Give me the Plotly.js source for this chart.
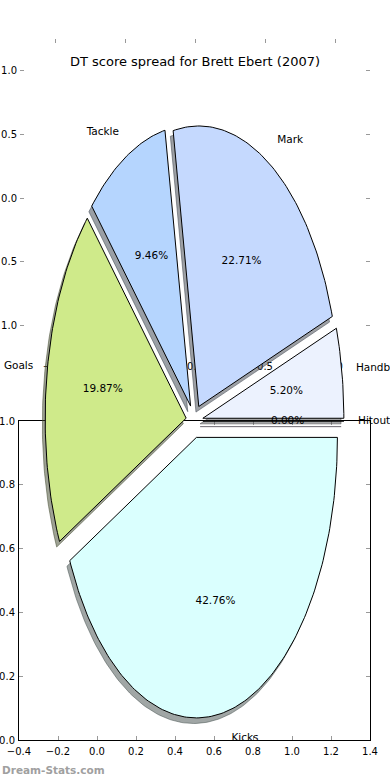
<!DOCTYPE html>
<html><head><meta charset="utf-8">
<script src="https://cdn.plot.ly/plotly-3.0.1.min.js"></script>
<style>html,body{margin:0;padding:0;background:#fff}#chart{width:390px;height:780px}</style>
</head><body><div id="chart"></div>
<script>
// ---------- data ----------
// (the last label is cut to what the reference shows at the right edge)
const labels = ['Hitout', 'Handb', 'Mark', 'Tackle', 'Goals', 'Kicks'];
const shares = [0.00, 5.20, 22.71, 9.46, 19.87, 42.76];
const colors = ['#f1e4ff', '#ecf2fe', '#c5d9fe', '#b5d5fe', '#cfea8a', '#dafffe'];
const explode = [0.06, 0.06, 0.06, 0.06, 0.06, 0.06];
const titleText = 'DT score spread for Brett Ebert (2007)';
const upperTickVals = [-1, -0.5, 0, 0.5, 1];
const upperXTickText = ['\u22121.0', '\u22120.5', '0.0', '0.5', '1.0'];
const upperYTickText = ['1.0', '0.5', '0.0', '0.5', '1.0'];
const lowerXTickVals = [-0.4, -0.2, 0, 0.2, 0.4, 0.6, 0.8, 1.0, 1.2, 1.4];
const lowerXTickText = ['\u22120.4', '\u22120.2', '0.0', '0.2', '0.4', '0.6', '0.8', '1.0', '1.2', '1.4'];
const lowerYTickVals = [0, 0.2, 0.4, 0.6, 0.8, 1.0];
const lowerYTickText = ['0.0', '0.2', '0.4', '0.6', '0.8', '1.0'];
const watermark = 'Dream-Stats.com';

// ---------- layout geometry ----------
const W = 390, H = 780;
const fx = p => p / W, fy = p => 1 - p / H;
const pieCx = 194.5, pieCy = 421, pieRx = 141, pieRy = 280.5;
const x3range = [(0 - pieCx) / pieRx, (W - pieCx) / pieRx];
const y3range = [(pieCy - H) / pieRy, (pieCy - 0) / pieRy];
const FONT = 'DejaVu Sans, sans-serif';
const labelDistance = 1.1, pctDistance = 0.6, shadowOff = -0.02;

function hexToRgb(h) {
  const n = parseInt(h.slice(1), 16);
  return [(n >> 16) & 255, (n >> 8) & 255, n & 255];
}

const total = shares.reduce((a, b) => a + b, 0);
const shadowTraces = [], wedgeTraces = [];
const labX = [], labY = [], labPos = [];
const pctX = [], pctY = [], pctText = [];
let t1 = 0;
shares.forEach((v, i) => {
  const t2 = t1 + 360 * v / total;
  const tm = (t1 + t2) / 2 * Math.PI / 180;
  const cx = explode[i] * Math.cos(tm), cy = explode[i] * Math.sin(tm);
  const xs = [cx], ys = [cy];
  const n = Math.max(1, Math.ceil(t2 - t1));
  for (let k = 0; k <= n; k++) {
    const a = (t1 + (t2 - t1) * k / n) * Math.PI / 180;
    xs.push(cx + Math.cos(a)); ys.push(cy + Math.sin(a));
  }
  xs.push(cx); ys.push(cy);
  const rgb = hexToRgb(colors[i]).map(c => Math.round(c * 0.3));
  const sc = 'rgba(' + rgb.join(',') + ',0.5)';
  shadowTraces.push({
    type: 'scatter', mode: 'lines', xaxis: 'x3', yaxis: 'y3',
    x: xs.map(x => x + shadowOff), y: ys.map(y => y + shadowOff),
    fill: 'toself', fillcolor: sc, line: {color: sc, width: 1},
    hoverinfo: 'skip', showlegend: false
  });
  wedgeTraces.push({
    type: 'scatter', mode: 'lines', xaxis: 'x3', yaxis: 'y3',
    x: xs, y: ys, fill: 'toself', fillcolor: colors[i],
    line: {color: '#000', width: 1}, name: labels[i],
    hoverinfo: 'skip', showlegend: false
  });
  const lx = cx + labelDistance * Math.cos(tm), ly = cy + labelDistance * Math.sin(tm);
  labX.push(lx); labY.push(ly); labPos.push(lx > 0 ? 'middle right' : 'middle left');
  pctX.push(cx + pctDistance * Math.cos(tm)); pctY.push(cy + pctDistance * Math.sin(tm));
  pctText.push(v.toFixed(2) + '%');
  t1 = t2;
});

const textFont = {family: FONT, size: 10.5, color: '#000'};
const traces = [
  {type: 'scatter', x: [], y: [], xaxis: 'x', yaxis: 'y', showlegend: false},
  {type: 'scatter', x: [], y: [], xaxis: 'x2', yaxis: 'y2', showlegend: false},
  ...shadowTraces, ...wedgeTraces,
  {type: 'scatter', mode: 'text', xaxis: 'x3', yaxis: 'y3', x: labX, y: labY,
   text: labels, textposition: labPos, textfont: textFont, cliponaxis: false,
   hoverinfo: 'skip', showlegend: false},
  {type: 'scatter', mode: 'text', xaxis: 'x3', yaxis: 'y3', x: pctX, y: pctY,
   text: pctText, textposition: 'middle center', textfont: textFont, cliponaxis: false,
   hoverinfo: 'skip', showlegend: false}
];

const tickStyle = {
  ticks: 'inside', ticklen: 4, tickwidth: 1, tickcolor: '#999',
  showgrid: false, zeroline: false, tickmode: 'array', mirror: 'ticks',
  tickfont: {family: FONT, size: 10, color: '#000'}, fixedrange: true
};

const layout = {
  width: W, height: H, margin: {l: 0, r: 0, t: 0, b: 0},
  paper_bgcolor: '#fff', plot_bgcolor: 'rgba(0,0,0,0)', showlegend: false,
  title: {text: titleText, font: {family: FONT, size: 13, color: '#000'},
          x: 0.5, xanchor: 'center', xref: 'paper', y: fy(61.5), yanchor: 'middle', yref: 'paper'},
  xaxis: Object.assign({}, tickStyle, {domain: [fx(20), fx(370)], range: [-1.25, 1.25], anchor: 'y',
          showline: false, tickvals: upperTickVals, ticktext: upperXTickText, ticklabelstandoff: 2}),
  yaxis: Object.assign({}, tickStyle, {domain: [fy(357), fy(39)], range: [-1.25, 1.25], anchor: 'x',
          showline: false, tickvals: upperTickVals, ticktext: upperYTickText, ticklabelstandoff: 2}),
  xaxis2: Object.assign({}, tickStyle, {domain: [fx(19), fx(370)], range: [-0.4, 1.4], anchor: 'y2',
          showline: true, linecolor: '#000', linewidth: 1, tickvals: lowerXTickVals, ticktext: lowerXTickText,
          ticklabelstandoff: 2}),
  yaxis2: Object.assign({}, tickStyle, {domain: [fy(740), fy(421)], range: [0, 1], anchor: 'x2',
          showline: true, linecolor: '#000', linewidth: 1, tickvals: lowerYTickVals, ticktext: lowerYTickText,
          ticklabelstandoff: 1}),
  xaxis3: {domain: [0, 1], range: x3range, anchor: 'y3', visible: false, fixedrange: true},
  yaxis3: {domain: [0, 1], range: y3range, anchor: 'x3', visible: false, fixedrange: true},
  annotations: [{
    text: watermark, xref: 'paper', yref: 'paper', x: 0, y: fy(770),
    xanchor: 'left', yanchor: 'middle', showarrow: false,
    font: {family: FONT, size: 10.5, color: '#a0a0a0', weight: 'bold'}
  }]
};

Plotly.newPlot('chart', traces, layout, {displayModeBar: false, staticPlot: true});
</script>
</body></html>
